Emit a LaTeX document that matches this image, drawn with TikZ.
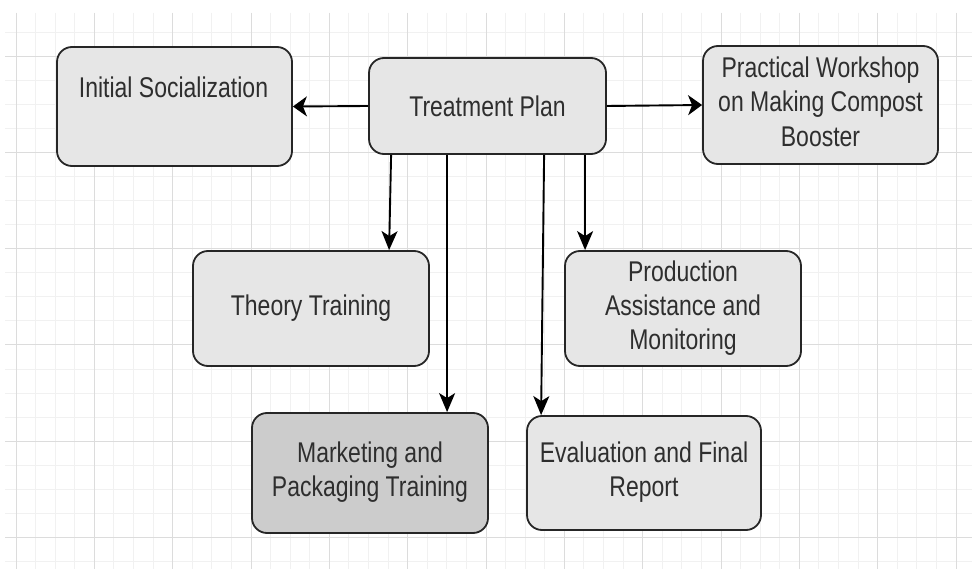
\documentclass[tikz,border=0pt]{standalone}
\usepackage{fontspec}
\usepackage{graphicx}
\setmainfont{Liberation Sans}
\usetikzlibrary{arrows.meta,calc}

\definecolor{gridminor}{HTML}{F1F1F1}
\definecolor{gridmajor}{HTML}{DCDCDC}
\definecolor{boxfill}{HTML}{E6E6E6}
\definecolor{boxdark}{HTML}{CCCCCC}
\definecolor{boxline}{HTML}{262626}
\definecolor{labeltext}{HTML}{2E2E2E}

% text is set a little taller than wide
\newcommand{\tall}[1]{\scalebox{1}[1.24]{#1}}
\newcommand{\tallrows}[1]{\scalebox{1}[1.24]{\begin{tabular}{@{}c@{}}#1\end{tabular}}}

\tikzset{
  stepbox/.style={draw=boxline, line width=1.8pt, fill=boxfill,
    rounded corners=15pt, inner sep=0pt, text=labeltext,
    font=\fontsize{23}{27.6}\selectfont},
  labeltxt/.style={inner sep=0pt, text=labeltext,
    font=\fontsize{23}{27.6}\selectfont},
  harrow/.style={line width=1.9pt, -{Stealth[length=14pt,width=20pt,inset=4pt]}},
  varrow/.style={line width=1.9pt, -{Stealth[length=19pt,width=16pt,inset=5pt]}},
}

\begin{document}
\begin{tikzpicture}[x=1pt,y=-1pt]
\useasboundingbox (0,0) rectangle (972,569);
\fill[white] (0,0) rectangle (972,569);

% background grid
\begin{scope}
  \clip (5,13) rectangle (972,569);
  \foreach \i in {0,...,49}
    \draw[gridminor, line width=1pt] ({16+19.5833*\i},13) -- ({16+19.5833*\i},569);
  \foreach \j in {0,...,22}
    \draw[gridminor, line width=1pt] (5,{33+24*\j}) -- (972,{33+24*\j});
  \foreach \i in {0,...,12}
    \draw[gridmajor, line width=1pt] ({16+78.333*\i},13) -- ({16+78.333*\i},569);
  \foreach \j in {0,...,5}
    \draw[gridmajor, line width=1pt] (5,{57+96*\j}) -- (972,{57+96*\j});
\end{scope}

% boxes
\node[stepbox, minimum width=235pt, minimum height=119pt] (is) at (174.5,106.5) {};
\node[labeltxt, anchor=base] (istext) at (173.5,98) {\tall{Initial Socialization}};

\node[stepbox, minimum width=237pt, minimum height=96pt] (tp) at (487.5,106)
  {\tall{Treatment Plan}};

\node[stepbox, minimum width=235pt, minimum height=118pt] (pw) at (820.5,105)
  {\tallrows{Practical Workshop\\on Making Compost\\Booster}};

\node[stepbox, minimum width=236pt, minimum height=115pt] (tt) at (311,308.5)
  {\tall{Theory Training}};

\node[stepbox, minimum width=236pt, minimum height=115pt] (pa) at (683,308.5)
  {\tallrows{Production\\Assistance and\\Monitoring}};

\node[stepbox, fill=boxdark, minimum width=236pt, minimum height=120pt] (mk) at (370,473)
  {\tallrows{Marketing and\\Packaging Training}};

\node[stepbox, minimum width=234pt, minimum height=114pt] (ev) at (644,473)
  {\tallrows{Evaluation and Final\\Report}};

% connectors
\draw[harrow] (tp.west) -- (is.east);
\draw[harrow] (tp.east) -- (pw.west);
\draw[varrow] ($(tp.south west)+(23,0)$) -- ($(tt.north west)+(197,0)$);
\draw[varrow] ($(tp.south west)+(79,0)$) -- ($(mk.north west)+(196,0)$);
\draw[varrow] ($(tp.south west)+(176,0)$) -- ($(ev.north west)+(15,0)$);
\draw[varrow] ($(tp.south west)+(217,0)$) -- ($(pa.north west)+(21,0)$);
\end{tikzpicture}
\end{document}
